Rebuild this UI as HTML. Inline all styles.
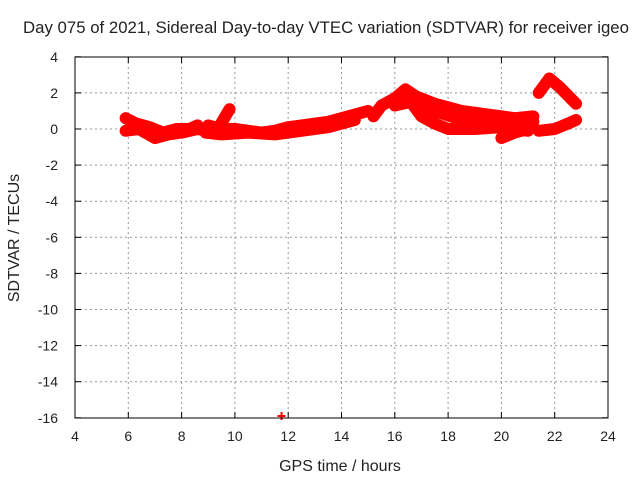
<!DOCTYPE html>
<html><head><meta charset="utf-8"><style>
body{margin:0;background:#fff}
svg text{font-family:"Liberation Sans",sans-serif;font-size:14px;fill:#222}
svg text.big{font-size:16px}
svg text.title{font-size:16.8px}
</style></head><body>
<svg id="chart" width="640" height="480" xmlns="http://www.w3.org/2000/svg">
<text class="title" x="326" y="33" text-anchor="middle">Day 075 of 2021, Sidereal Day-to-day VTEC variation (SDTVAR) for receiver igeo</text>
<text class="big" x="340" y="471" text-anchor="middle">GPS time / hours</text>
<text class="big" transform="translate(19,238) rotate(-90)" text-anchor="middle">SDTVAR / TECUs</text>
<g id="grid"></g>
<g id="ticks"></g>
<g id="series"></g>
<rect x="75" y="57" width="533" height="361" fill="none" stroke="#000" stroke-width="1"/>
</svg>
<script>
const xTicks=[4,6,8,10,12,14,16,18,20,22,24];
const yTicks=[4,2,0,-2,-4,-6,-8,-10,-12,-14,-16];
const trackA=[[5.9,0.6],[6.3,0.3],[6.8,0.1],[7.3,-0.2],[7.8,0],[8.3,0],[8.6,0.2]];
const trackB=[[5.9,-0.1],[6.4,0],[7,-0.5],[7.5,-0.3],[8,-0.2],[8.6,0],[9.3,-0.2]];
const trackC=[[9,0.2],[9.5,0],[10,0],[10.5,-0.1],[11,-0.2],[11.5,-0.1],[12,0.1],[12.5,0.2],[13,0.3],[13.5,0.4],[14,0.6],[14.5,0.8],[15,1.0]];
const trackD=[[8.9,-0.2],[9.5,-0.3],[10.5,-0.2],[11.5,-0.3],[12.5,-0.1],[13.5,0.1],[14.5,0.5]];
const trackE=[[9.4,0.1],[9.8,1.1]];
const trackF=[[15.2,0.7],[15.5,1.3],[16,1.7],[16.4,2.2],[16.8,1.8],[17.5,1.4],[18,1.2],[18.5,1.0],[19,0.9],[19.5,0.8],[20,0.7],[20.5,0.6],[21.2,0.7]];
const trackG=[[16,1.3],[16.6,1.5],[17,0.7],[17.5,0.3],[18,0],[19,0],[20,0.1],[21,-0.1]];
const trackH=[[16.8,1.3],[17.5,1.0],[18.5,0.5],[19.5,0.4],[20.5,0.3],[21.2,0.4]];
const trackI=[[20,-0.5],[20.5,-0.2],[21,0]];
const trackJ=[[21.4,2.0],[21.8,2.8],[22.2,2.3],[22.8,1.4]];
const trackK=[[21.4,-0.1],[22,0],[22.5,0.3],[22.8,0.5]];
const outliers=[[11.75,-15.9]];
const tracks=[trackA,trackB,trackC,trackD,trackE,trackF,trackG,trackH,trackI,trackJ,trackK];
const NS="http://www.w3.org/2000/svg";
const X=h=>75+(h-4)*(533/20);
const Y=v=>129-v*(361/20);
function mk(tag,attrs,parent){const e=document.createElementNS(NS,tag);for(const k in attrs)e.setAttribute(k,attrs[k]);parent.appendChild(e);return e;}
const grid=document.getElementById('grid'),ticks=document.getElementById('ticks'),series=document.getElementById('series');
xTicks.forEach(t=>{
  const x=X(t);
  if(t>4&&t<24){const l=mk('line',{x1:x,x2:x,y1:57,y2:418,stroke:'#999','stroke-dasharray':'2,3'},grid);
  
  }
  mk('line',{x1:x,x2:x,y1:418,y2:412,stroke:'#000'},ticks);
  mk('line',{x1:x,x2:x,y1:57,y2:63,stroke:'#000'},ticks);
  const tx=mk('text',{x:x,y:441,'text-anchor':'middle'},ticks);tx.textContent=t;
  
  
});
yTicks.forEach(t=>{
  const y=Y(t);
  if(t<4&&t>-16){const l=mk('line',{x1:75,x2:608,y1:y,y2:y,stroke:'#999','stroke-dasharray':'2,3'},grid);
  
  }
  mk('line',{x1:75,x2:81,y1:y,y2:y,stroke:'#000'},ticks);
  mk('line',{x1:608,x2:602,y1:y,y2:y,stroke:'#000'},ticks);
  const tx=mk('text',{x:58,y:y+5,'text-anchor':'end'},ticks);tx.textContent=t;
  
  
});
tracks.forEach(tr=>{
  const p=mk('polyline',{points:tr.map(d=>X(d[0])+','+Y(d[1])).join(' '),fill:'none',stroke:'#f00','stroke-width':12,'stroke-linejoin':'round','stroke-linecap':'round'},series);
  
  
});
outliers.forEach(d=>{
  const g=mk('path',{d:`M${X(d[0])-4},${Y(d[1])}h8M${X(d[0])},${Y(d[1])-4}v8`,stroke:'#f00','stroke-width':2},series);
  
  
});
</script>
</body></html>
